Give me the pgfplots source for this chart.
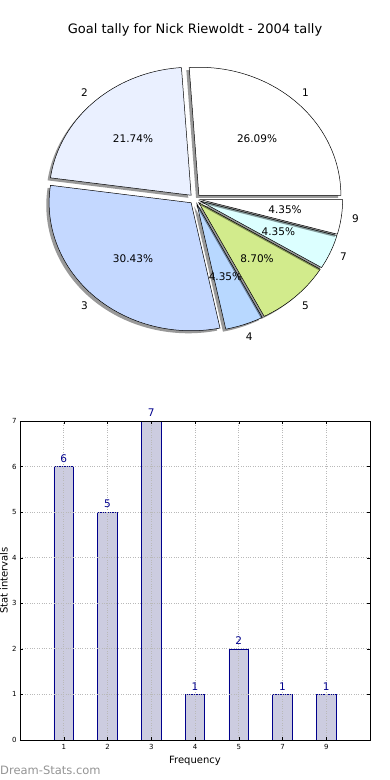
\documentclass[border=0pt]{standalone}
\usepackage{fontspec}
\setmainfont{DejaVu Sans}
\usepackage{pgfplots}
\pgfplotsset{compat=1.18}
\definecolor{pA}{RGB}{255,255,255}
\definecolor{pB}{RGB}{234,240,255}
\definecolor{pC}{RGB}{196,216,255}
\definecolor{pD}{RGB}{184,216,255}
\definecolor{pE}{RGB}{210,235,140}
\definecolor{pF}{RGB}{220,255,255}
\definecolor{pG}{RGB}{255,255,255}
\definecolor{barfill}{RGB}{204,204,224}
\definecolor{baredge}{RGB}{0,0,140}
\definecolor{gridc}{RGB}{185,185,185}
\tikzset{pielab/.style={font=\fontsize{10.5}{12}\selectfont, inner sep=0pt}}
% total goals = 23
\newcommand\pieslice[5]{%
  \pgfmathsetmacro\sa{360*#1/23}%
  \pgfmathsetmacro\sb{360*(#1+#2)/23}%
  \pgfmathsetmacro\sm{(\sa+\sb)/2}%
  \pgfmathsetmacro\ex{0.04*cos(\sm)}%
  \pgfmathsetmacro\ey{0.04*sin(\sm)}%
  \pgfmathsetmacro\sx{\ex-0.02}%
  \pgfmathsetmacro\sy{\ey-0.02}%
  \pgfmathsetmacro\lx{\ex+1.1*cos(\sm)}%
  \pgfmathsetmacro\ly{\ey+1.1*sin(\sm)}%
  \pgfmathsetmacro\px{\ex+0.6*cos(\sm)}%
  \pgfmathsetmacro\py{\ey+0.6*sin(\sm)}%
  \edef\doslice{%
    \noexpand\addplot[draw=none, fill=black, fill opacity=0.4, domain=\sa:\sb, samples=80] ({\sx+cos(x)},{\sy+sin(x)}) -- (axis cs:\sx,\sy) -- cycle;
    \noexpand\addplot[draw=black, line width=0.5pt, fill=#3, domain=\sa:\sb, samples=80] ({\ex+cos(x)},{\ey+sin(x)}) -- (axis cs:\ex,\ey) -- cycle;
    \noexpand\node[pielab] at (axis cs:\lx,\ly) {#4};
    \noexpand\node[pielab] at (axis cs:\px,\py) {#5};
  }\doslice
}
\begin{document}
\begin{tikzpicture}
% ---------- Pie chart ----------
\node[font=\fontsize{13}{15}\selectfont] at (195pt,750pt) {Goal tally for Nick Riewoldt - 2004 tally};
\begin{axis}[
  at={(195pt,581pt)}, anchor=origin,
  scale only axis, width=340.8pt, height=307.2pt,
  xmin=-1.2, xmax=1.2, ymin=-1.2, ymax=1.2,
  hide axis, clip=false]
  \pieslice{0}{6}{pA}{1}{26.09\%}
  \pieslice{6}{5}{pB}{2}{21.74\%}
  \pieslice{11}{7}{pC}{3}{30.43\%}
  \pieslice{18}{1}{pD}{4}{4.35\%}
  \pieslice{19}{2}{pE}{5}{8.70\%}
  \pieslice{21}{1}{pF}{7}{4.35\%}
  \pieslice{22}{1}{pG}{9}{4.35\%}
\end{axis}
% ---------- Bar chart ----------
\begin{axis}[
  at={(20pt,40pt)}, anchor=south west,
  scale only axis, width=350pt, height=319pt,
  xmin=-1, xmax=7, ymin=0, ymax=7,
  xtick={0,1,2,3,4,5,6}, xticklabels={1,2,3,4,5,7,9},
  ytick={0,1,2,3,4,5,6,7},
  axis on top,
  tick align=inside, xtick pos=both, ytick pos=both,
  major tick length=3pt,
  tick style={black, line width=0.4pt},
  ticklabel style={font=\fontsize{7}{8}\selectfont},
  /pgf/number format/assume math mode=true,
  xticklabel style={yshift=-1pt},
  grid=major,
  major grid style={gridc, dotted, line width=0.8pt},
  axis line style={black, line width=0.7pt},
  xlabel={Frequency}, ylabel={Stat intervals},
  label style={font=\fontsize{10.5}{12}\selectfont},
  every axis x label/.style={at={(axis description cs:0.5,0)}, anchor=center, yshift=-21pt},
  every axis y label/.style={at={(axis description cs:0,0.5)}, anchor=center, xshift=-16pt, rotate=90},
  ]
  \addplot[ybar, bar width=0.45, fill=barfill, draw=baredge, line width=0.7pt,
    nodes near coords, nodes near coords style={font=\fontsize{10.5}{12}\selectfont, text=baredge, inner sep=1pt, yshift=3pt}]
    coordinates {(0,6) (1,5) (2,7) (3,1) (4,2) (5,1) (6,1)};
\end{axis}
\node[anchor=west, font=\fontsize{11.5}{13}\selectfont, text=black!42, inner sep=0pt] at (0pt,10pt) {Dream-Stats.com};
\pgfresetboundingbox
\path[use as bounding box] (0,0) rectangle (390pt,780pt);
\end{tikzpicture}
\end{document}
